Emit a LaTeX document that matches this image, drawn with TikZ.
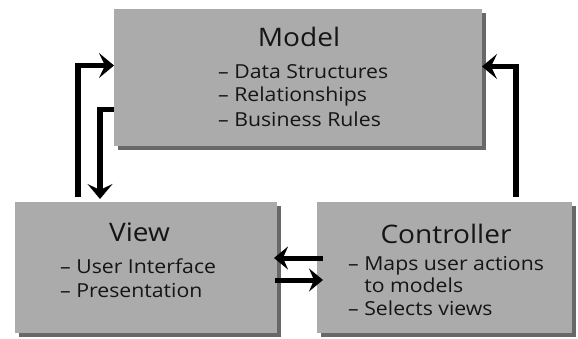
\documentclass[tikz,border=0pt]{standalone}
\usepackage{fontspec}
\setmainfont[FakeStretch=1.1]{Open Sans}
\usetikzlibrary{arrows.meta,shadows}
\definecolor{boxgray}{HTML}{ABABAB}
\definecolor{shadowgray}{HTML}{585858}
\definecolor{inkcol}{HTML}{151515}
\tikzset{
  mvcbox/.style={rectangle, fill=boxgray, draw=none, inner sep=0pt, outer sep=0pt,
    drop shadow={shadow xshift=4pt, shadow yshift=-4pt, fill=shadowgray, opacity=0.9}},
  boxtitle/.style={anchor=base, inner sep=0pt, text=inkcol, font=\fontsize{25.5}{28}\selectfont},
  boxitem/.style={anchor=base west, inner sep=0pt, text=inkcol, font=\fontsize{19.3}{22}\selectfont},
  arr/.style={line width=5.5pt, draw=black, -{Stealth[length=15pt,width=25pt,inset=6pt]}},
  arrs/.style={line width=5pt, draw=black, -{Stealth[length=14pt,width=23pt,inset=5pt]}}
}
\begin{document}
\begin{tikzpicture}[x=1pt,y=-1pt]
\useasboundingbox (0,0) rectangle (578,339);
% boxes
\node[mvcbox, minimum width=368pt, minimum height=137pt] (model) at (298,78) {};
\node[mvcbox, minimum width=262pt, minimum height=131pt] (view) at (146,267.5) {};
\node[mvcbox, minimum width=255pt, minimum height=131pt] (ctrl) at (444.5,267.5) {};
% model text
\node[boxtitle] (mt) at (299,46.7) {Model};
\node[boxitem] (m1) at (218,78.3) {– Data Structures};
\node[boxitem] (m2) at (218,102) {– Relationships};
\node[boxitem] (m3) at (218,126.7) {– Business Rules};
% view text
\node[boxtitle] (vt) at (139.5,241.7) {View};
\node[boxitem] (v1) at (60,273.3) {– User Interface};
\node[boxitem] (v2) at (60,297.3) {– Presentation};
% controller text
\node[boxtitle] (ct) at (446,243.3) {Controller};
\node[boxitem] (c1) at (348,270) {– Maps user actions};
\node[boxitem] (c2) at (348,292) {\phantom{– }to models};
\node[boxitem] (c3) at (348,315) {– Selects views};
% connectors
\draw[arr] ([xshift=63pt,yshift=5pt]view.north west) |- ([yshift=-56pt]model.north west);
\draw[arr] ([yshift=-100pt]model.north west) -| ([xshift=85pt,yshift=3pt]view.north west);
\draw[arr] ([xshift=199pt,yshift=5pt]ctrl.north west) |- ([yshift=-57pt]model.north east);
\draw[arrs] ([xshift=6pt,yshift=9.5pt]ctrl.west) -- ([xshift=-3pt,yshift=9.5pt]view.east);
\draw[arrs] ([xshift=-2pt,yshift=-12.5pt]view.east) -- ([xshift=6pt,yshift=-12.5pt]ctrl.west);
\end{tikzpicture}
\end{document}
